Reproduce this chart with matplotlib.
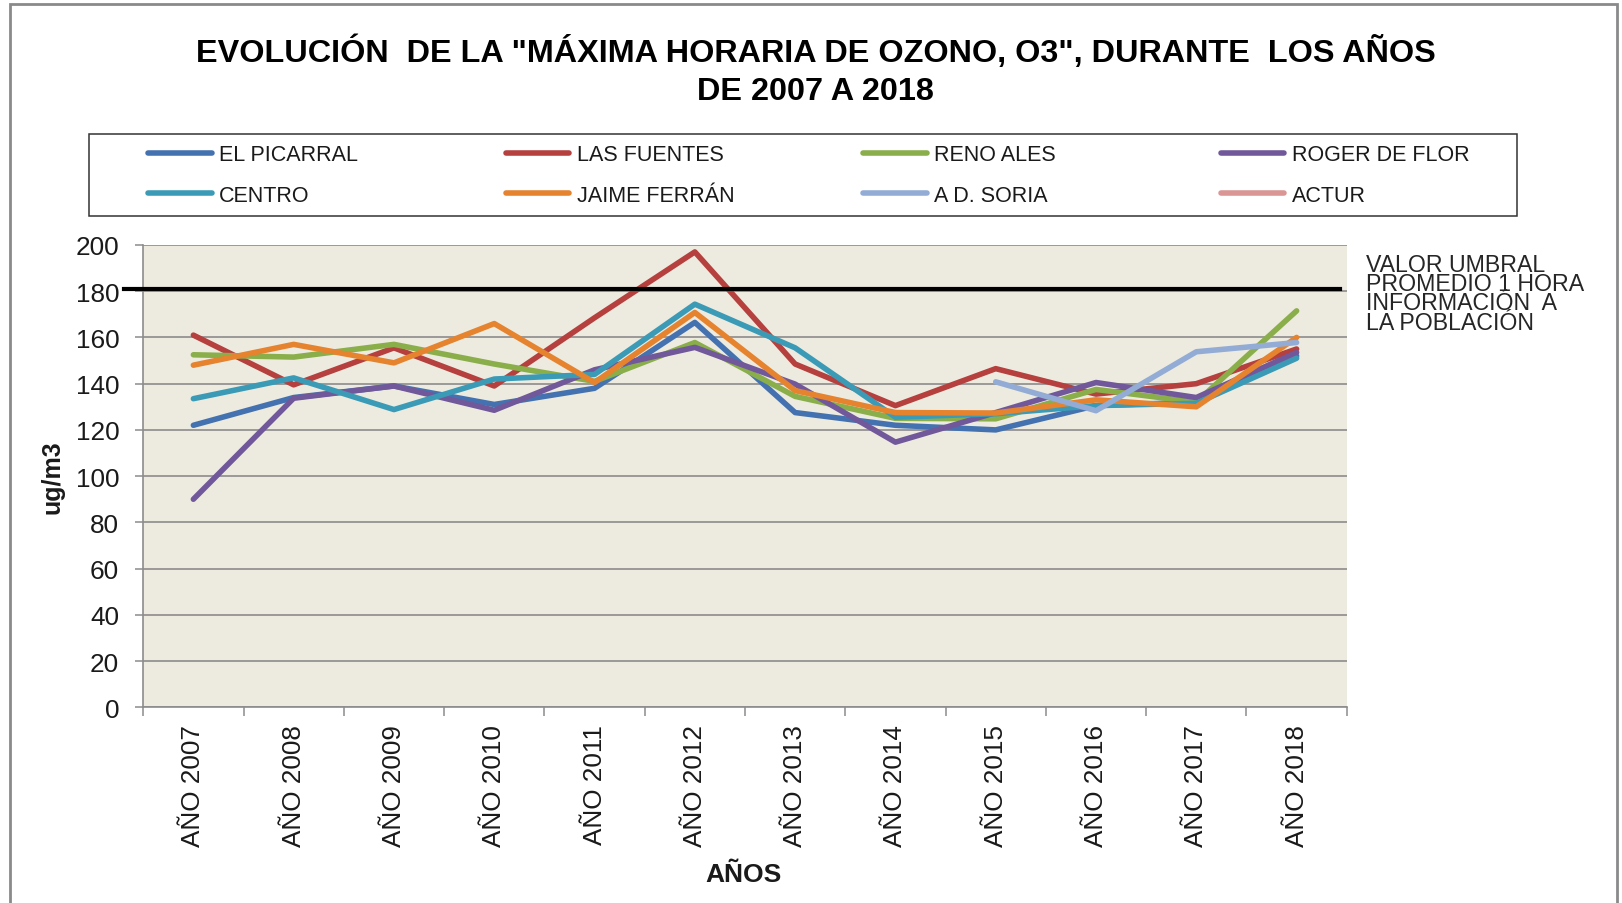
import matplotlib
matplotlib.use("Agg")
import matplotlib.pyplot as plt
import numpy as np
from matplotlib.patches import Rectangle

plt.rcParams['font.family'] = ['Liberation Sans', 'DejaVu Sans']

nan = np.nan

# datos (ug/m3)
years = ["AÑO 2007", "AÑO 2008", "AÑO 2009", "AÑO 2010", "AÑO 2011", "AÑO 2012",
         "AÑO 2013", "AÑO 2014", "AÑO 2015", "AÑO 2016", "AÑO 2017", "AÑO 2018"]
el_picarral = [122, 134, 139, 131, 138, 166.5, 127.5, 122, 120, 130.5, 132, 152]
las_fuentes = [161, 139.5, 155.5, 139, 168.5, 197, 148.5, 130.5, 146.5, 135.5, 140, 155]
reno_ales = [152.5, 151.5, 157, 148.5, 141, 157.8, 134.5, 125, 124.8, 137.5, 132, 171.5]
roger_de_flor = [90, 133.7, 139, 128.5, 146, 155.7, 139.8, 114.7, 127.5, 140.5, 134, 153.5]
centro = [133.5, 142.5, 128.8, 142, 144, 174.4, 155.5, 125.5, 127, 130.5, 131.5, 151]
jaime_ferran = [148, 157, 149, 166, 140.5, 170.8, 137, 127.5, 127.3, 133, 130, 160]
ad_soria = [nan, nan, nan, nan, nan, nan, nan, nan, 140.8, 128.3, 153.8, 157.8]
actur = [nan] * 12
umbral = 181

stations = ["EL PICARRAL", "LAS FUENTES", "RENO ALES", "ROGER DE FLOR",
            "CENTRO", "JAIME FERRÁN", "A D. SORIA", "ACTUR"]
series = [el_picarral, las_fuentes, reno_ales, roger_de_flor,
          centro, jaime_ferran, ad_soria, actur]
colors = ["#4472B0", "#B5403D", "#8AAE4A", "#71589A",
          "#3B9BB6", "#E5832F", "#93ACD6", "#D99694"]

grid_c = "#8c8c8c"
txt_c = "#1a1a1a"

fig = plt.figure(figsize=(16.22, 9.04), dpi=100)
ax = fig.add_axes([0.0883, 0.2165, 0.742, 0.5114])
ax.set_facecolor("#EDEBE0")

x = np.arange(len(years))
lines = []
for name, vals, c in zip(stations, series, colors):
    ln, = ax.plot(x, vals, color=c, lw=4.0, label=name,
                  solid_capstyle="round", solid_joinstyle="round")
    lines.append(ln)

# linea del umbral (va por encima de las series)
ax.axhline(umbral, xmin=-0.016, xmax=0.994, color="black", lw=3.0,
           clip_on=False, zorder=5)

ax.set_xlim(-0.5, len(years) - 0.5)
ax.set_ylim(0, 200)
ax.set_yticks(np.arange(0, 201, 20))
ax.yaxis.grid(True, color=grid_c, lw=1.2)
ax.set_axisbelow(True)

ax.set_xticks(x)
ax.set_xticklabels(years, rotation=90, fontsize=18.8, color=txt_c)
ax.set_xticks(np.arange(-0.5, len(years)), minor=True)
ax.tick_params(axis="x", which="major", length=0, pad=12)
ax.tick_params(axis="x", which="minor", length=6.5, width=1.1, color=grid_c)
ax.tick_params(axis="y", length=5.8, width=1.1, color=grid_c, pad=11.5,
               labelsize=18.8, labelcolor=txt_c)

for s in ["top", "right"]:
    ax.spines[s].set_visible(False)
for s in ["left", "bottom"]:
    ax.spines[s].set_color(grid_c)
    ax.spines[s].set_linewidth(1.2)

# titulo
fig.text(0.503, 1 - 62.2 / 904, 'EVOLUCIÓN  DE LA "MÁXIMA HORARIA DE OZONO, O3", DURANTE  LOS AÑOS',
         ha="center", va="baseline", fontsize=23.3, fontweight="bold", color="black")
fig.text(0.503, 1 - 100.2 / 904, "DE 2007 A 2018",
         ha="center", va="baseline", fontsize=23.3, fontweight="bold", color="black")

fig.text(52.5 / 1622, 1 - 477 / 904, "ug/m3", rotation=90, ha="center", va="center",
         fontsize=18, fontweight="bold", color=txt_c)
fig.text(743 / 1622, 1 - 874.6 / 904, "AÑOS", ha="center", va="center",
         fontsize=19, fontweight="bold", color=txt_c)

# texto del umbral
umbral_txt = ["VALOR UMBRAL", "PROMEDIO 1 HORA", "INFORMACIÓN  A", "LA POBLACIÓN"]
for i, t in enumerate(umbral_txt):
    fig.text(1366.5 / 1622, 1 - (271.7 + 19.4 * i) / 904, t, ha="left", va="baseline",
             fontsize=16.7, color="#262626")

# leyenda: una columna por cada par de series
col_x = [148.3, 505.7, 863.1, 1220.5]
for i, cx in enumerate(col_x):
    fig.legend(handles=[lines[i], lines[i + 4]], loc="upper left",
               bbox_to_anchor=(cx / 1622, 1 - 145.2 / 904), frameon=False,
               borderpad=0, borderaxespad=0, handlelength=2.95, handletextpad=0.35,
               labelspacing=0.9, fontsize=15.5, labelcolor=txt_c)

fig.patches.append(Rectangle((89.3 / 1622, 1 - 217.3 / 904), (1516.5 - 89.3) / 1622,
                             (217.3 - 135) / 904, transform=fig.transFigure,
                             fill=False, edgecolor="#333333", lw=1.1))

# marco exterior del grafico
fig.patches.append(Rectangle((9.5 / 1622, -0.05), (1617 - 9.5) / 1622, 1.05 - 5.3 / 904,
                             transform=fig.transFigure, fill=False,
                             edgecolor="#8a8a8a", lw=2.0))

fig.savefig("out.png", dpi=100)
